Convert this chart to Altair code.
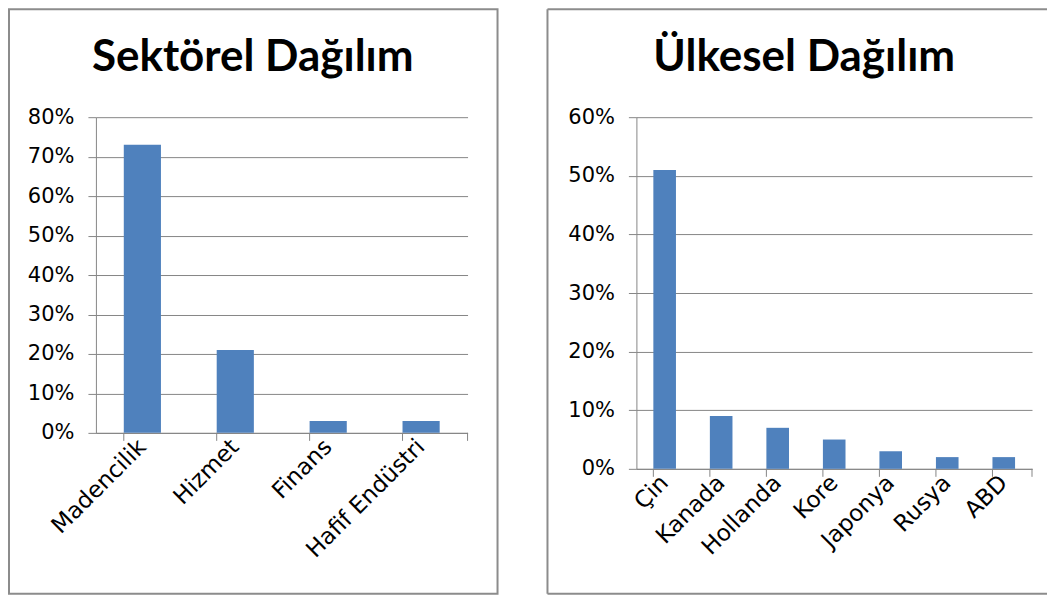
import altair as alt
import pandas as pd

# ---- data ----
sector_names = ["Madencilik", "Hizmet", "Finans", "Hafif Endüstri"]
sector_values = [0.73, 0.21, 0.03, 0.03]
sector_ticks = [0.0, 0.1, 0.2, 0.3, 0.4, 0.5, 0.6, 0.7, 0.8]

country_names = ["Çin", "Kanada", "Hollanda", "Kore", "Japonya", "Rusya", "ABD"]
country_values = [0.51, 0.09, 0.07, 0.05, 0.03, 0.02, 0.02]
country_ticks = [0.0, 0.1, 0.2, 0.3, 0.4, 0.5, 0.6]

title_left = "Sektörel Dağılım"
title_right = "Ülkesel Dağılım"

BAR = "#4F81BD"
GRID = "#868686"
FRAME = "#8c8c8c"
LFONT = "DejaVu Sans"
TFONT = "Lato"
YSIZE = 21
XSIZE = 23

one = alt.Data(values=[{"k": 1}])


def panel(names, values, ticks, title, W, H, title_x, frame):
    df = pd.DataFrame({"cat": names, "val": values})
    xscale = alt.Scale(paddingInner=0.6, paddingOuter=0.3)
    bars = alt.Chart(df).mark_bar(color=BAR).encode(
        x=alt.X(
            "cat:N",
            sort=names,
            title=None,
            scale=xscale,
            axis=alt.Axis(
                labelAngle=-45,
                labelAlign="right",
                labelBaseline="middle",
                ticks=False,
                labelPadding=10,
                domainColor=GRID,
                labelFont=LFONT,
                labelFontSize=XSIZE,
                labelColor="black",
                grid=False,
            ),
        ),
        y=alt.Y(
            "val:Q",
            title=None,
            scale=alt.Scale(domain=[ticks[0], ticks[-1]], nice=False),
            axis=alt.Axis(
                values=ticks,
                format=".0%",
                tickSize=8,
                labelPadding=14,
                grid=True,
                gridColor=GRID,
                domainColor=GRID,
                tickColor=GRID,
                labelFont=LFONT,
                labelFontSize=YSIZE,
                labelColor="black",
            ),
        ),
    )
    # category boundary tick marks (Excel style)
    cat_ticks = alt.Chart(df).mark_rule(color=GRID, strokeWidth=1).encode(
        x=alt.X("cat:N", sort=names, bandPosition=0, scale=xscale),
        y=alt.value(H),
        y2=alt.value(H + 8),
    )
    end_tick = alt.Chart(one).mark_rule(color=GRID, strokeWidth=1).encode(
        x=alt.value(W), y=alt.value(H), y2=alt.value(H + 8)
    )
    ttl = alt.Chart(one).mark_text(
        text=title, font=TFONT, fontSize=44, fontWeight="bold",
        align="center", baseline="alphabetic", color="black",
    ).encode(x=alt.value(title_x), y=alt.value(-46))
    layers = [bars, cat_ticks, end_tick, ttl] + frame
    return alt.layer(*layers).properties(width=W, height=H)


left_frame = [
    alt.Chart(one).mark_rect(fillOpacity=0, stroke=FRAME, strokeWidth=2).encode(
        x=alt.value(-87), x2=alt.value(402), y=alt.value(-108), y2=alt.value(477)
    )
]
right_frame = [
    alt.Chart(one).mark_rule(color=FRAME, strokeWidth=2).encode(
        x=alt.value(-89), x2=alt.value(411), y=alt.value(-108)
    ),
    alt.Chart(one).mark_rule(color=FRAME, strokeWidth=2).encode(
        x=alt.value(-89), y=alt.value(-108), y2=alt.value(477)
    ),
    alt.Chart(one).mark_rule(color=FRAME, strokeWidth=2).encode(
        x=alt.value(-89), x2=alt.value(411), y=alt.value(477)
    ),
]

left = panel(sector_names, sector_values, sector_ticks, title_left, 372, 316, 157, left_frame)
right = panel(country_names, country_values, country_ticks, title_right, 396, 352, 168, right_frame)

chart = (
    alt.hconcat(left, right, spacing=48)
    .properties(padding=0, background="white")
    .configure_view(strokeWidth=0)
)

chart.save("out.html", embed_options={"renderer": "svg", "actions": False})
